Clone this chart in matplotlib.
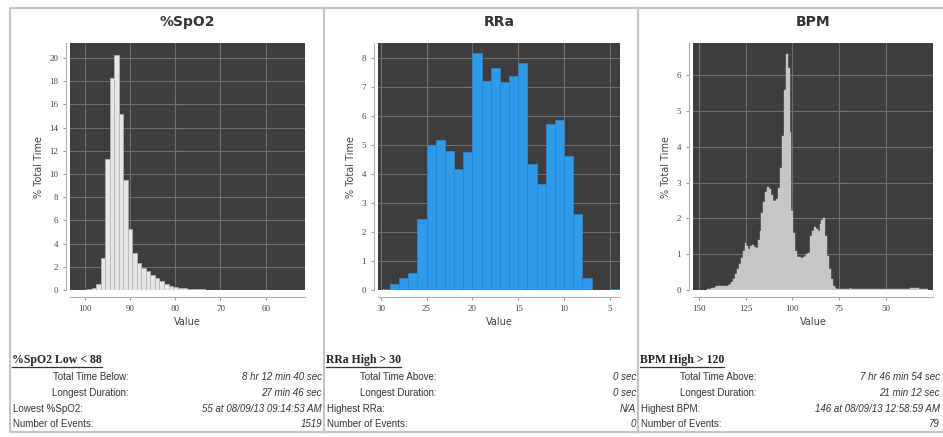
#!/usr/bin/env python3
"""Trend histograms: %SpO2, RRa and BPM with event summaries."""

import matplotlib

matplotlib.use("Agg")
import matplotlib.pyplot as plt
from matplotlib.lines import Line2D
from matplotlib.patches import Rectangle

# %SpO2 histogram: 1 % bins, % total time
spo2_bins = list(range(99, 54, -1))
spo2_pct = [0.05, 0.15, 0.5, 2.8, 11.3, 18.3, 20.3, 15.2, 9.5, 5.3,
            3.2, 2.3, 1.9, 1.6, 1.3, 1.0, 0.75, 0.55, 0.38, 0.25,
            0.17, 0.13, 0.1, 0.08, 0.06, 0.05, 0.04, 0.03, 0.03, 0.02,
            0.02, 0.01, 0.01, 0.01, 0.01, 0.01, 0.01, 0.01, 0.01, 0.01,
            0.01, 0.01, 0.01, 0.01, 0.01]

# RRa histogram: 1 breath/min bins (left edges)
rra_bins = list(range(29, 3, -1))
rra_pct = [0.05, 0.2, 0.4, 0.6, 2.45, 5.0, 5.15, 4.8, 4.15, 4.75,
           8.15, 7.2, 7.65, 7.15, 7.35, 7.8, 4.35, 3.65, 5.7, 5.85,
           4.6, 2.6, 0.4, 0.0, 0.0, 0.05]

# BPM histogram: 1 bpm bins
bpm_bins = list(range(145, 27, -1))
bpm_pct = [0.03, 0.04, 0.05, 0.06, 0.08, 0.1, 0.1, 0.1, 0.1, 0.11,
           0.12, 0.14, 0.17, 0.22, 0.32, 0.44, 0.58, 0.72, 0.88, 1.08,
           1.3, 1.22, 1.15, 1.22, 1.27, 1.2, 1.18, 1.4, 1.65, 2.15,
           2.45, 2.75, 2.88, 2.82, 2.65, 2.5, 2.5, 2.55, 2.85, 3.4,
           4.3, 5.6, 6.6, 6.2, 4.4, 2.2, 1.6, 1.1, 0.93, 0.92,
           0.9, 0.92, 0.95, 1.0, 1.03, 1.5, 1.65, 1.77, 1.7, 1.65,
           1.85, 1.95, 2.0, 1.5, 0.95, 0.6, 0.3, 0.12, 0.05, 0.03,
           0.02, 0.02, 0.02, 0.02, 0.02, 0.02, 0.05, 0.02, 0.02, 0.02,
           0.02, 0.02, 0.02, 0.02, 0.02, 0.02, 0.02, 0.02, 0.02, 0.02,
           0.02, 0.02, 0.02, 0.02, 0.02, 0.02, 0.02, 0.02, 0.02, 0.02,
           0.02, 0.02, 0.02, 0.02, 0.02, 0.02, 0.02, 0.02, 0.05, 0.05,
           0.05, 0.05, 0.05, 0.02, 0.02, 0.02, 0.02, 0.02]

# summary tables
spo2_head = "%SpO2 Low < 88"
spo2_labels = ["Total Time Below:", "Longest Duration:", "Lowest %SpO2:", "Number of Events:"]
spo2_vals = ["8 hr 12 min 40 sec", "27 min 46 sec", "55 at 08/09/13 09:14:53 AM", "1519"]
rra_head = "RRa High > 30"
rra_labels = ["Total Time Above:", "Longest Duration:", "Highest RRa:", "Number of Events:"]
rra_vals = ["0 sec", "0 sec", "N/A", "0"]
bpm_head = "BPM High > 120"
bpm_labels = ["Total Time Above:", "Longest Duration:", "Highest BPM:", "Number of Events:"]
bpm_vals = ["7 hr 46 min 54 sec", "21 min 12 sec", "146 at 08/09/13 12:58:59 AM", "79"]

W, H = 943, 437
fig = plt.figure(figsize=(W / 100, H / 100), dpi=100)
fig.patch.set_facecolor("white")


def fx(px):
    return px / W


def fy(py):
    return 1 - py / H


def hist_axes(x0, x1, title, xlim, ylim, xticks, yticks):
    ax = fig.add_axes([fx(x0), fy(290), fx(x1 - x0), fy(43) - fy(290)])
    ax.set_facecolor("#3d3d3d")
    ax.set_xlim(*xlim)
    ax.set_ylim(*ylim)
    ax.set_xticks(xticks)
    ax.set_yticks(yticks)
    ax.grid(color="#6e6e6e", linewidth=0.8)
    ax.set_axisbelow(True)
    for s in ["top", "right"]:
        ax.spines[s].set_visible(False)
    ax.spines["bottom"].set_position(("outward", 5))
    ax.spines["left"].set_position(("outward", 3))
    for s in ["bottom", "left"]:
        ax.spines[s].set_color("#b0b0b0")
    ax.tick_params(colors="#999999", labelcolor="#444444", labelsize=6.5, length=2)
    for lab in ax.get_xticklabels() + ax.get_yticklabels():
        lab.set_family("Liberation Serif")
    ax.set_xlabel("Value", fontsize=7, color="#444444", labelpad=3)
    ax.set_ylabel("% Total Time", fontsize=7, color="#444444", labelpad=4)
    fig.text(fx((x0 + x1) / 2), fy(22), title, ha="center", va="center",
             fontsize=10, fontweight="bold", color="#333333")
    return ax


# panel frames
for x0, x1 in [(10, 324), (324, 638), (638, 960)]:
    fig.add_artist(Rectangle((fx(x0), fy(432)), fx(x1 - x0), fy(8) - fy(432),
                             transform=fig.transFigure, fill=False,
                             edgecolor="#c4c4c4", linewidth=1.5))

ax1 = hist_axes(70, 305, "%SpO2", (103.3, 51.3), (0, 21.3),
                [100, 90, 80, 70, 60], list(range(0, 21, 2)))
ax1.bar(spo2_bins, spo2_pct, width=1.0, color="#e6e6e6", edgecolor="#b5b5b5", linewidth=0.5)

ax2 = hist_axes(378, 620, "RRa", (30.3, 3.9), (0, 8.5),
                [30, 25, 20, 15, 10, 5], list(range(0, 9)))
ax2.bar(rra_bins, rra_pct, width=1.0, align="edge", color="#2f9ae8",
        edgecolor="#2a86cc", linewidth=0.6)

ax3 = hist_axes(693, 933, "BPM", (153, 25), (0, 6.9),
                [150, 125, 100, 75, 50], list(range(0, 7)))
ax3.bar(bpm_bins, bpm_pct, width=1.0, color="#c6c6c6", edgecolor="#c6c6c6", linewidth=0.3)

# summary tables
rows_y = [377, 393, 409, 424]
fig.canvas.draw()
renderer = fig.canvas.get_renderer()
for x_left, x_lab, x_val, head, labels, vals in [
    (12, 129, 322, spo2_head, spo2_labels, spo2_vals),
    (326, 437, 636, rra_head, rra_labels, rra_vals),
    (640, 757, 940, bpm_head, bpm_labels, bpm_vals),
]:
    t = fig.text(fx(x_left), fy(360), head, ha="left", va="center", fontsize=8.5,
                 fontweight="bold", family="Liberation Serif", color="#222222")
    bb = t.get_window_extent(renderer)
    fig.add_artist(Line2D([bb.x0 / W, bb.x1 / W], [fy(367), fy(367)],
                          transform=fig.transFigure, color="#333333", linewidth=0.9))
    for i, (lab, val) in enumerate(zip(labels, vals)):
        if i < 2:
            fig.text(fx(x_lab), fy(rows_y[i]), lab, ha="right", va="center",
                     fontsize=7, family="Liberation Sans", color="#333333")
        else:
            fig.text(fx(x_left + 1), fy(rows_y[i]), lab, ha="left", va="center",
                     fontsize=7, family="Liberation Sans", color="#333333")
        fig.text(fx(x_val), fy(rows_y[i]), val, ha="right", va="center", fontsize=7,
                 family="Liberation Sans", style="italic", color="#333333")

fig.savefig("out.png", dpi=100)
